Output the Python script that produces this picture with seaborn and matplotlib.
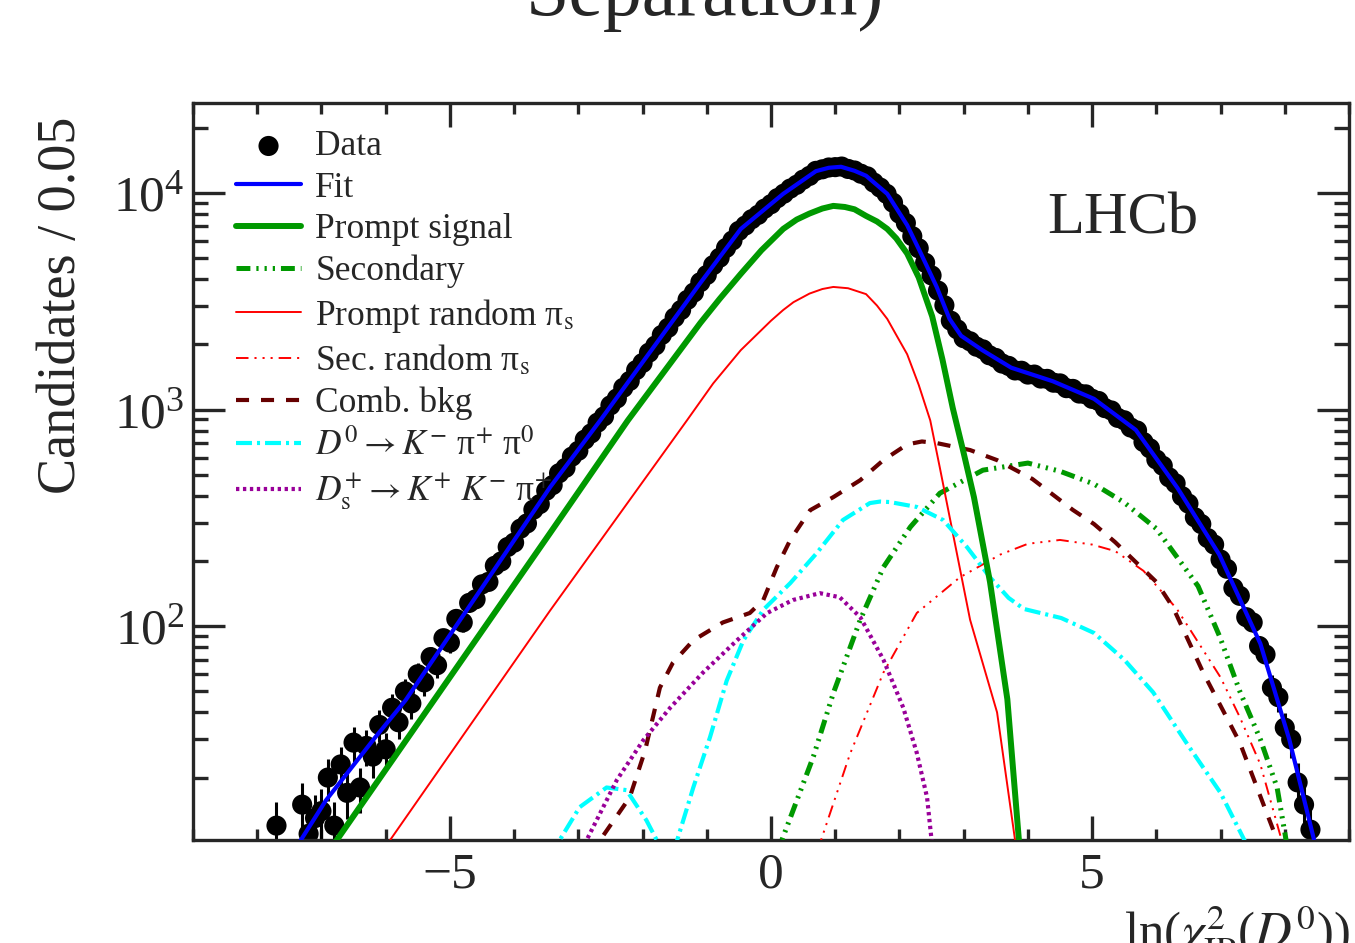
import numpy as np
import pandas as pd
import matplotlib
matplotlib.use("Agg")
import matplotlib.pyplot as plt
from matplotlib.ticker import MultipleLocator, LogLocator, NullFormatter
import seaborn as sns

# ---- data ----
data_x = [-7.7, -7.3, -7.2, -7.1, -7.0, -6.9, -6.8, -6.7, -6.6, -6.5, -6.4, -6.3, -6.2, -6.1,
          -6.0, -5.9, -5.8, -5.7, -5.6, -5.5, -5.4, -5.3, -5.2, -5.1, -5.0, -4.9, -4.8, -4.7,
          -4.6, -4.5, -4.4, -4.3, -4.2, -4.1, -4.0, -3.9, -3.8, -3.7, -3.6, -3.5, -3.4, -3.3,
          -3.2, -3.1, -3.0, -2.9, -2.8, -2.7, -2.6, -2.5, -2.4, -2.3, -2.2, -2.1, -2.0, -1.9,
          -1.8, -1.7, -1.6, -1.5, -1.4, -1.3, -1.2, -1.1, -1.0, -0.9, -0.8, -0.7, -0.6, -0.5,
          -0.4, -0.3, -0.2, -0.1, 0.0, 0.1, 0.2, 0.3, 0.4, 0.5, 0.6, 0.7, 0.8, 0.9, 1.0, 1.1,
          1.2, 1.3, 1.4, 1.5, 1.6, 1.7, 1.8, 1.9, 2.0, 2.1, 2.2, 2.3, 2.4, 2.5, 2.6, 2.7, 2.8,
          2.9, 3.0, 3.1, 3.2, 3.3, 3.4, 3.5, 3.6, 3.7, 3.8, 3.9, 4.0, 4.1, 4.2, 4.3, 4.4, 4.5,
          4.6, 4.7, 4.8, 4.9, 5.0, 5.1, 5.2, 5.3, 5.4, 5.5, 5.6, 5.7, 5.8, 5.9, 6.0, 6.1, 6.2,
          6.3, 6.4, 6.5, 6.6, 6.7, 6.8, 6.9, 7.0, 7.1, 7.2, 7.3, 7.4, 7.5, 7.6, 7.7, 7.8, 7.9,
          8.0, 8.1, 8.2, 8.3, 8.4]
data_y = [12, 15, 11, 13, 14, 20, 12, 23, 17, 29, 18, 28, 25, 35,
          27, 42, 36, 50, 44, 60, 55, 72, 66, 88, 84, 108, 104, 128,
          133, 156, 160, 190, 199, 232, 243, 282, 298, 345, 366, 422, 448, 508,
          538, 606, 645, 726, 776, 870, 930, 1045, 1125, 1260, 1355, 1520, 1640, 1830,
          1975, 2210, 2385, 2660, 2880, 3210, 3470, 3870, 4180, 4640, 5020, 5570, 6030, 6680,
          7070, 7560, 7920, 8460, 8870, 9460, 9920, 10470, 10900, 11510, 11980, 12640, 12850, 13100, 13150, 13230,
          12900, 12690, 12260, 11920, 11160, 10580, 9900, 9010, 8020, 7260, 6310, 5550, 4760, 4160, 3540, 3030, 2570,
          2345, 2135, 2065, 1950, 1895, 1780, 1730, 1630, 1590, 1515, 1510, 1450, 1450, 1390, 1385, 1330, 1320,
          1255, 1245, 1185, 1175, 1120, 1095, 1015, 990, 915, 892, 826, 800, 708, 662, 588, 550, 486,
          456, 398, 368, 318, 296, 255, 238, 203, 184, 150, 138, 110, 104, 81, 74, 52, 47,
          34, 30, 19, 15, 11.5]

fit_x = [-7.45, -7.32, -6.93, -6.15, -5.69, -4.53, -3.44, -2.66, -1.1, -0.47, 0.19, 0.7, 0.9, 1.09,
         1.3, 1.48, 1.81, 2.12, 2.32, 2.58, 2.78, 2.96, 3.29, 3.74, 4.39, 5.03, 5.68, 6.33, 6.98,
         7.62, 8.07, 8.46, 8.55]
fit_y = [8.5, 10.3, 15.7, 31, 45.5, 146, 438, 890, 3840, 6820, 9900, 12600, 13060, 13200,
         12650, 12000, 9900, 7100, 5360, 3680, 2620, 2190, 1880, 1560, 1350, 1120, 805, 434, 214,
         83, 30, 10.2, 8.2]

prompt_x = [-6.9, -6.76, -3.44, -2.23, -1.1, -0.8, -0.47, -0.15, 0.19, 0.4, 0.6, 0.8, 0.97, 1.15,
            1.3, 1.48, 1.65, 1.81, 1.95, 2.12, 2.3, 2.51, 2.67, 2.83, 3.0, 3.16, 3.41, 3.68, 3.86,
            3.95]
prompt_y = [8.8, 10.3, 269, 890, 2510, 3240, 4230, 5430, 6820, 7530, 8030, 8470, 8710, 8610,
            8400, 7830, 7380, 6820, 6170, 5250, 4070, 2690, 1700, 1017, 630, 394, 160, 46, 10.3,
            6]

sec_x = [0.05, 0.17, 0.66, 0.97, 1.39, 1.75, 2.17, 2.63, 3.3, 4.0, 4.5, 5.03, 5.5, 6.0, 6.65,
         6.99, 7.3, 7.62, 7.88, 8.02, 8.1]
sec_y = [8.5, 10.3, 25, 49, 107, 187, 287, 411, 525, 566, 519, 453, 372, 282, 153,
         89, 50, 30, 18, 10.3, 8]

prand_x = [-6.1, -5.93, -3.44, -1.31, -0.9, -0.47, 0.0, 0.19, 0.35, 0.6, 0.8, 0.97, 1.2, 1.48,
           1.65, 1.81, 1.95, 2.12, 2.3, 2.48, 2.63, 2.79, 3.1, 3.52, 3.8, 3.9]
prand_y = [8.7, 10.3, 118, 890, 1320, 1880, 2570, 2880, 3130, 3430, 3600, 3680, 3630, 3410,
           3020, 2620, 2210, 1800, 1300, 890, 537, 310, 107, 40, 10.3, 7]

srand_x = [0.7, 0.78, 1.23, 1.75, 2.27, 2.94, 3.57, 4.0, 4.5, 5.0, 5.36, 5.8, 6.32, 6.7, 7.0,
           7.3, 7.62, 7.95, 8.05]
srand_y = [8.5, 10.3, 25.7, 61, 115, 168, 214, 240, 250, 238, 222, 180, 120, 80, 58,
           38, 23, 10.3, 8]

comb_x = [-2.75, -2.66, -2.2, -1.96, -1.73, -1.53, -1.21, -0.75, -0.33, -0.12, 0.09, 0.3, 0.61,
          0.97, 1.39, 1.75, 2.12, 2.35, 2.58, 3.1, 3.52, 4.07, 4.7, 5.03, 5.36, 6.0, 6.26, 6.73,
          7.3, 7.88, 7.95]
comb_y = [8.5, 10.3, 16.2, 26.7, 52, 67.6, 86, 104, 115, 132, 187, 250, 343,
          394, 472, 584, 690, 712, 700, 650, 584, 478, 344, 296, 244, 160, 122, 61,
          29, 10.3, 9]

d0_x = [-3.4, -3.29, -2.98, -2.56, -2.25, -1.94, -1.78, -1.62, -1.46, -1.21, -0.95, -0.69, -0.43,
        -0.12, 0.3, 0.71, 1.12, 1.54, 1.7, 1.85, 2.27, 2.68, 3.05, 3.41, 3.7, 3.94, 4.52, 5.03,
        5.5, 5.95, 6.5, 7.0, 7.37, 7.45]
d0_y = [8.5, 10.3, 14.6, 18, 17.5, 12.7, 10.3, 6, 10.3, 18, 30.7, 56, 86,
        119, 158, 217, 309, 370, 376, 374, 355, 309, 232, 168, 135, 120, 109, 93,
        70, 49.5, 28, 17, 10.3, 9]

ds_x = [-2.95, -2.87, -2.4, -1.99, -1.57, -1.06, -0.53, -0.06, 0.34, 0.76, 1.07, 1.39, 1.75,
        2.06, 2.27, 2.43, 2.5, 2.55]
ds_y = [8.5, 10.3, 19.5, 29.7, 42, 61, 86, 115, 132, 142, 136, 110, 70,
        42, 26, 16.2, 10.3, 8.5]

labels = ["Data", "Fit", "Prompt signal", "Secondary",
          "Prompt random π$_{\\mathrm{s}}$", "Sec. random π$_{\\mathrm{s}}$", "Comb. bkg",
          "$D^{0}\\rightarrow K^{-}$ π$^{+}$ π$^{0}$",
          "$D_{\\mathrm{s}}^{+}\\rightarrow K^{+}\\ K^{-}$ π$^{+}$"]

sns.set_style("ticks")
plt.rcParams['font.family'] = ['Liberation Serif', 'DejaVu Serif']
plt.rcParams['mathtext.fontset'] = 'stix'
plt.rcParams['lines.scale_dashes'] = False

fig = plt.figure(figsize=(13.55, 9.43), dpi=100)
ax = fig.add_axes([193/1355, 1-840/943, 1156/1355, 737/943])

# data with errors
ax.errorbar(data_x, data_y, yerr=np.sqrt(data_y), fmt='none', ecolor='black',
            elinewidth=2.2, capsize=0, zorder=2)
sns.scatterplot(x=data_x, y=data_y, color='black', s=210, edgecolor='none',
                ax=ax, zorder=2, label=labels[0])

curves = [
    (fit_x, fit_y, '#0000ff', 3.0, '-', labels[1], 6),
    (prompt_x, prompt_y, '#009900', 4.3, '-', labels[2], 5),
    (sec_x, sec_y, '#009900', 3.6, (0, (10, 4.3, 1.6, 4.3, 1.6, 4.3, 1.6, 4.3)), labels[3], 4),
    (prand_x, prand_y, '#ff0000', 1.4, '-', labels[4], 4),
    (srand_x, srand_y, '#ff0000', 1.4, (0, (9, 4.3, 1.5, 4.3, 1.5, 4.3, 1.5, 4.3)), labels[5], 4),
    (comb_x, comb_y, '#660000', 3.0, (0, (9.4, 8.6)), labels[6], 4),
    (d0_x, d0_y, '#00ffff', 3.0, (0, (11.5, 3.6, 2.2, 3.6)), labels[7], 4),
    (ds_x, ds_y, '#990099', 3.0, (0, (2.4, 2.6)), labels[8], 4),
]
for cx, cy, col, lw, ls, lab, z in curves:
    df = pd.DataFrame({"x": cx, "y": cy})
    sns.lineplot(data=df, x="x", y="y", color=col, linewidth=lw, linestyle=ls,
                 estimator=None, sort=False, ax=ax, zorder=z, label=lab)

ax.set_yscale('log')
ax.set_xlim(-9, 9)
ax.set_ylim(10.3, 26000)
ax.set_xlabel("")
ax.set_ylabel("")

ax.xaxis.set_major_locator(MultipleLocator(5))
ax.xaxis.set_minor_locator(MultipleLocator(1))
ax.yaxis.set_major_locator(LogLocator(base=10, numticks=10))
ax.yaxis.set_minor_locator(LogLocator(base=10, subs=np.arange(2, 10), numticks=20))
ax.yaxis.set_minor_formatter(NullFormatter())

ax.tick_params(which='both', direction='in', top=True, right=True, width=2.4, labelsize=37)
ax.tick_params(axis='x', which='major', length=17, pad=9)
ax.tick_params(axis='x', which='minor', length=8)
ax.tick_params(axis='y', which='major', length=23, pad=6)
ax.tick_params(axis='y', which='minor', length=11)
for sp in ax.spines.values():
    sp.set_linewidth(2.4)

handles, labs = ax.get_legend_handles_labels()
order = [labs.index(l) for l in labels]
ax.legend([handles[i] for i in order], [labs[i] for i in order], loc='upper left',
          bbox_to_anchor=(0.037, 0.963), frameon=False, fontsize=25.5, handlelength=1.85,
          handletextpad=0.4, labelspacing=0.24, borderpad=0, borderaxespad=0,
          scatterpoints=1)

ax.text(0.739, 0.8236, "LHCb", transform=ax.transAxes, fontsize=43.5,
        ha='left', va='baseline')

fig.text(705/1355, 1-15/943, "Separation)", ha='center', va='baseline', fontsize=56)
fig.text(62/1355, 1-305/943, "Candidates / 0.05", rotation=90, ha='center',
         va='center', fontsize=39)
fig.text(1350/1355, 1-948/943, "ln($\\chi^{2}_{\\mathrm{IP}}$($D^{0}$))", ha='right',
         va='baseline', fontsize=36.5)

fig.savefig("out.png", dpi=100)
